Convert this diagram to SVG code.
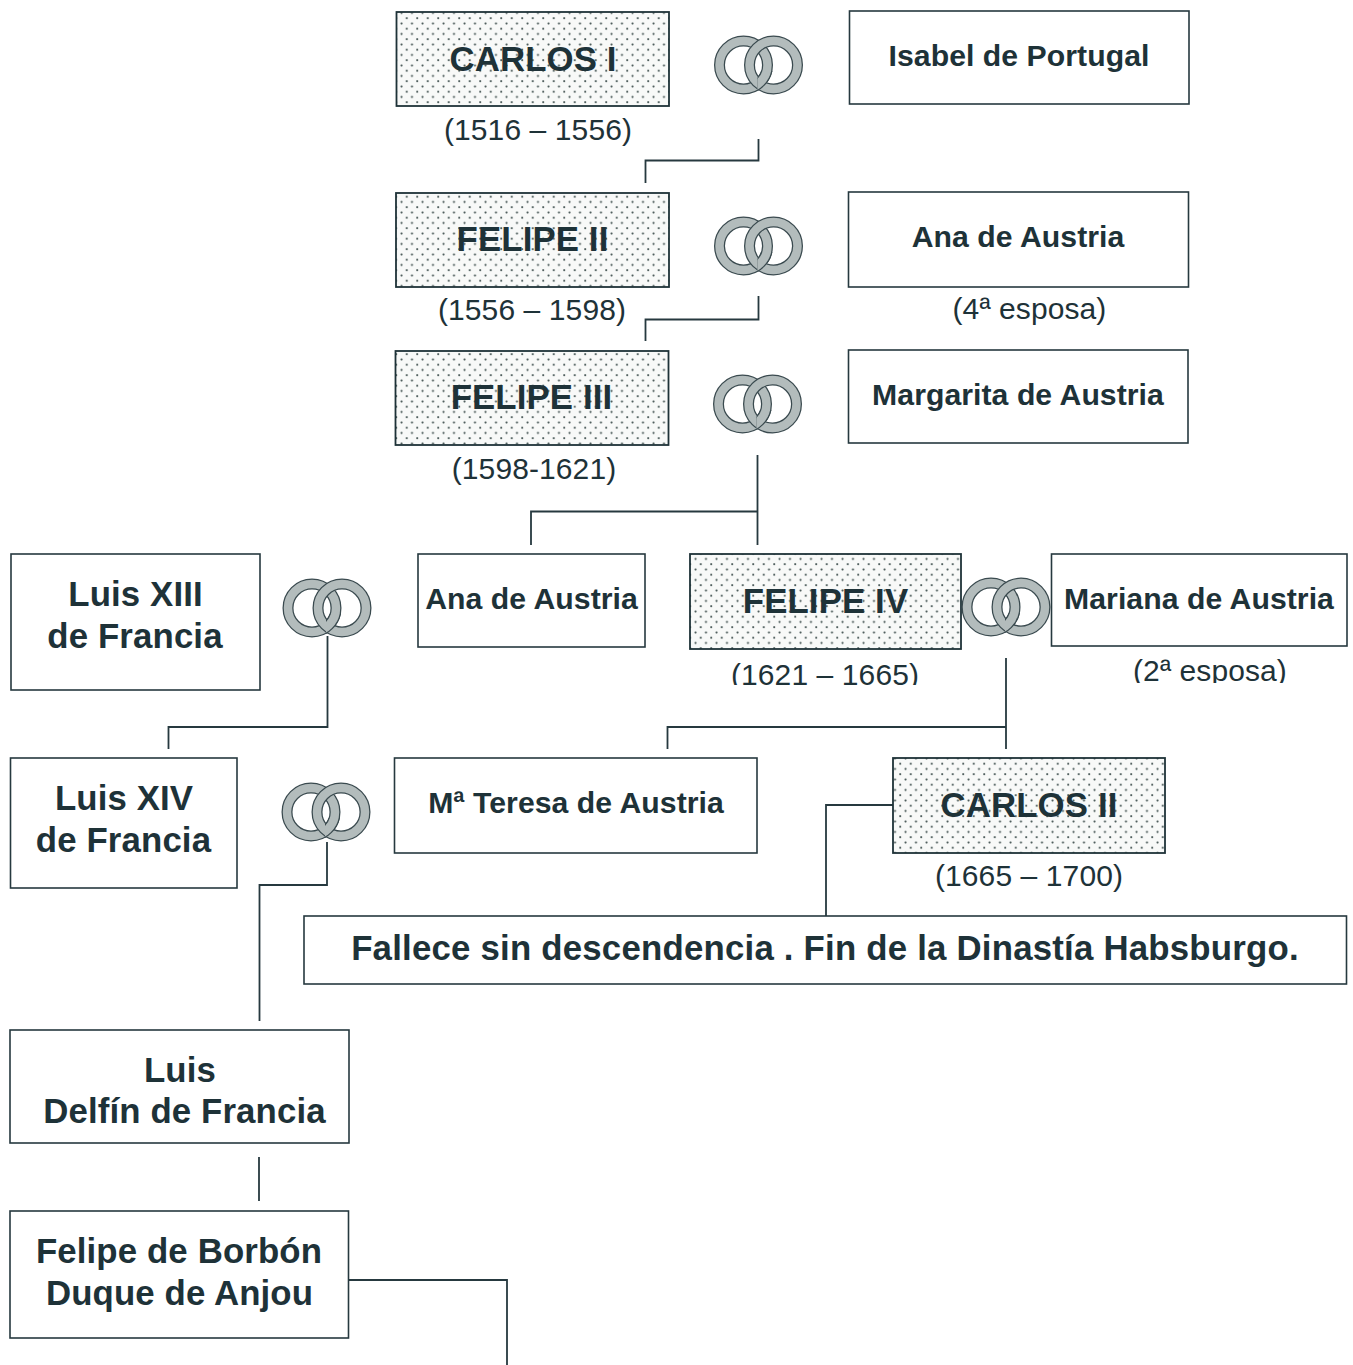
<svg xmlns="http://www.w3.org/2000/svg" xmlns:xlink="http://www.w3.org/1999/xlink" width="1353" height="1365" viewBox="0 0 1353 1365">
<style>
.box{fill:#fff;stroke:#26393f;stroke-width:1.6}
.dot{fill:url(#dots);stroke:#1e3238;stroke-width:1.8}
text{font-family:"Liberation Sans",Arial,sans-serif;fill:#1e3238;text-anchor:middle}
.b{font-weight:bold;font-size:30.2px;letter-spacing:.05px}
.k{font-weight:bold;font-size:34.8px;letter-spacing:.12px}
.f{letter-spacing:.21px}
.d{font-size:30px;letter-spacing:.1px}
.c{fill:none;stroke:#26393f;stroke-width:1.8}
.o{fill:none;stroke:#3a4a4f;stroke-width:11}
.g{fill:none;stroke:#b3bcbc;stroke-width:8.500}
</style>
<defs>
<pattern id="dots" width="10.500" height="10.500" patternUnits="userSpaceOnUse">
<rect width="10.500" height="10.500" fill="#f8f9f8"/>
<circle cx="2.500" cy="2.500" r="1.050" fill="#40504f"/>
<circle cx="7.750" cy="7.750" r="1.050" fill="#40504f"/>
</pattern>
<clipPath id="clip1"><rect x="700" y="655" width="250" height="30"/></clipPath>
<clipPath id="clip2"><rect x="1100" y="650" width="220" height="33"/></clipPath>
<clipPath id="lowL"><rect x="14" y="6" width="30" height="28"/></clipPath>
<g id="rings">
<g transform="translate(-15 0)"><circle class="o" r="24"/><circle class="g" r="24"/></g>
<g transform="translate(15 0)"><circle class="o" r="24"/><circle class="g" r="24"/></g>
<g transform="translate(-15 0)" clip-path="url(#lowL)"><circle class="o" r="24"/><circle class="g" r="24"/></g>
</g>
</defs>
<g id="connectors">
<path class="c" d="M758.500 139V160.500H645.500V183"/>
<path class="c" d="M758.500 296V319.500H645.500V341"/>
<path class="c" d="M757.500 455V545M757.500 511.500H531V545"/>
<path class="c" d="M327.500 636V727H168.500V749"/>
<path class="c" d="M1006 658V749M1006 727H667.500V749"/>
<path class="c" d="M893 805H826V916"/>
<path class="c" d="M327 842V885H259.500V1021"/>
<path class="c" d="M259 1157V1201"/>
<path class="c" d="M349 1280H507V1365"/>
</g>
<g id="carlos1"><rect class="dot" x="396.500" y="12" width="272.500" height="94"/><text class="k" x="533" y="71">CARLOS I</text><text class="d" x="538" y="140">(1516 – 1556)</text></g>
<g id="isabel"><rect class="box" x="849.500" y="11" width="339.500" height="93"/><text class="b" x="1019" y="66">Isabel de Portugal</text></g>
<use href="#rings" xlink:href="#rings" x="758.500" y="65"/>
<g id="felipe2"><rect class="dot" x="396" y="193" width="273" height="94"/><text class="k" x="532.500" y="251">FELIPE II</text><text class="d" x="532" y="320">(1556 – 1598)</text></g>
<g id="ana1"><rect class="box" x="848.500" y="192" width="340" height="95"/><text class="b" x="1018" y="247">Ana de Austria</text><text class="d" x="1029.500" y="319">(4ª esposa)</text></g>
<use href="#rings" xlink:href="#rings" x="758.500" y="246"/>
<g id="felipe3"><rect class="dot" x="395.500" y="351" width="273" height="94"/><text class="k" x="531.500" y="409">FELIPE III</text><text class="d" x="534" y="479">(1598-1621)</text></g>
<g id="margarita"><rect class="box" x="848.500" y="350" width="339.500" height="93"/><text class="b" x="1018" y="405">Margarita de Austria</text></g>
<use href="#rings" xlink:href="#rings" x="757.500" y="404"/>
<g id="luis13"><rect class="box" x="11" y="554" width="249" height="136"/><text class="k" x="135.500" y="606">Luis XIII</text><text class="k" x="135" y="648">de Francia</text></g>
<use href="#rings" xlink:href="#rings" x="327" y="608"/>
<g id="ana2"><rect class="box" x="418" y="554" width="227" height="93"/><text class="b" x="531.500" y="609">Ana de Austria</text></g>
<g id="felipe4"><rect class="dot" x="690" y="554" width="271" height="95"/><text class="k" x="825.500" y="613">FELIPE IV</text><text class="d" x="825" y="685" clip-path="url(#clip1)">(1621 – 1665)</text></g>
<use href="#rings" xlink:href="#rings" x="1006" y="607"/>
<g id="mariana"><rect class="box" x="1051.500" y="554" width="295.500" height="92"/><text class="b" x="1199" y="609">Mariana de Austria</text><text class="d" x="1210" y="681" clip-path="url(#clip2)">(2ª esposa)</text></g>
<g id="luis14"><rect class="box" x="10.500" y="758" width="226.500" height="130"/><text class="k" x="124" y="810">Luis XIV</text><text class="k" x="123.500" y="852">de Francia</text></g>
<use href="#rings" xlink:href="#rings" x="326" y="812"/>
<g id="teresa"><rect class="box" x="394.500" y="758" width="362.500" height="95"/><text class="b" x="576" y="813">Mª Teresa de Austria</text></g>
<g id="carlos2"><rect class="dot" x="893" y="758" width="272" height="95"/><text class="k" x="1029" y="817">CARLOS II</text><text class="d" x="1029" y="886">(1665 – 1700)</text></g>
<g id="fin"><rect class="box" x="304" y="916" width="1042.500" height="68"/><text class="k f" x="825" y="960">Fallece sin descendencia . Fin de la Dinastía Habsburgo.</text></g>
<g id="delfin"><rect class="box" x="10" y="1030" width="339" height="113"/><text class="k" x="180" y="1082">Luis</text><text class="k" x="184.500" y="1123">Delfín de Francia</text></g>
<g id="anjou"><rect class="box" x="10" y="1211" width="338.500" height="127"/><text class="k" x="179" y="1263">Felipe de Borbón</text><text class="k" x="179.500" y="1305">Duque de Anjou</text></g>
</svg>
